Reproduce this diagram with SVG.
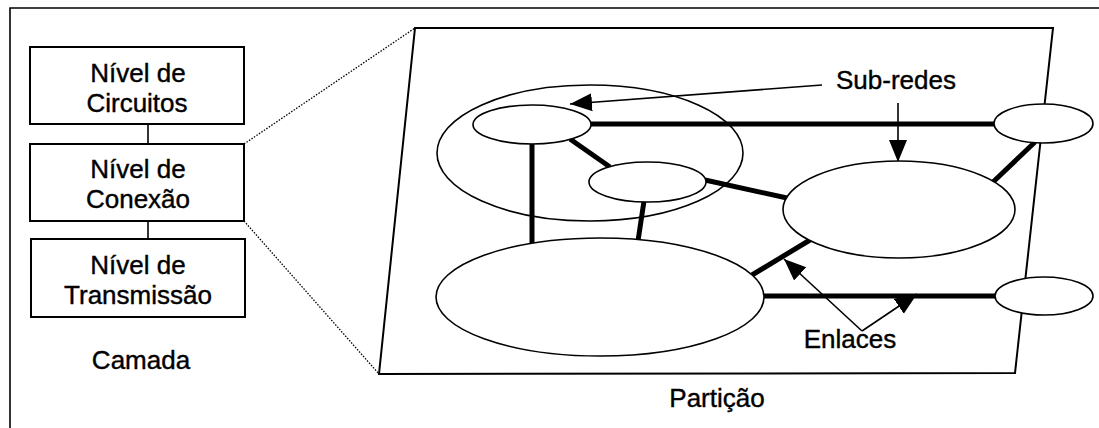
<svg xmlns="http://www.w3.org/2000/svg" width="1099" height="428" viewBox="0 0 1099 428">
<style>
.t{font-family:"Liberation Sans",Arial,sans-serif;font-size:26px;fill:#000;stroke:#000;stroke-width:0.4;text-anchor:middle}
.box{fill:#fff;stroke:#000;stroke-width:2}
.ell{fill:#fff;stroke:#000;stroke-width:1.6}
.thick{stroke:#000;stroke-width:5;fill:none}
.thin{stroke:#000;stroke-width:1.6;fill:none}
.dot{stroke:#000;stroke-width:1.3;stroke-dasharray:1.5 1.5;fill:none}
</style>
<defs>
<marker id="ah" markerUnits="userSpaceOnUse" markerWidth="24" markerHeight="20" refX="22" refY="9" orient="auto" viewBox="0 0 24 18">
<path d="M0,0 L22,9 L0,18 Z" fill="#000"/>
</marker>
</defs>
<rect width="1099" height="428" fill="#fff"/>
<path d="M10,428 V8 H1099" class="thin" stroke-width="2"/>

<g id="camada">
<g id="conn-layers">
<line x1="148" y1="124" x2="148" y2="144" class="thin"/>
<line x1="148" y1="221" x2="148" y2="239" class="thin"/>
</g>
<g id="n-circuitos">
<rect x="30" y="47" width="214" height="77" class="box"/>
<text class="t" x="138" y="82">Nível de</text>
<text class="t" x="137" y="112">Circuitos</text>
</g>
<g id="n-conexao">
<rect x="30" y="144" width="214" height="77" class="box"/>
<text class="t" x="138" y="178">Nível de</text>
<text class="t" x="138" y="208">Conexão</text>
</g>
<g id="n-transmissao">
<rect x="31" y="239" width="214" height="78" class="box"/>
<text class="t" x="138" y="274">Nível de</text>
<text class="t" x="138" y="304">Transmissão</text>
</g>
<text class="t" x="141" y="369">Camada</text>
</g>

<g id="zoom-lines">
<line x1="244" y1="144" x2="415" y2="28" class="dot"/>
<line x1="244" y1="221" x2="379" y2="374" class="dot"/>
</g>

<g id="particao">
<path d="M415,28 L1053,28 L1015,373 L379,374 Z" fill="#fff" stroke="#000" stroke-width="2"/>
<text class="t" x="717" y="407">Partição</text>
</g>

<g id="n-grupo">
<ellipse cx="590" cy="153" rx="153" ry="68" class="ell"/>
</g>

<g id="connectors">
<line x1="591" y1="124" x2="995" y2="124" class="thick"/>
<line x1="532" y1="143" x2="532" y2="243" class="thick"/>
<line x1="570" y1="139" x2="610" y2="167" class="thick"/>
<line x1="705" y1="180" x2="787" y2="198" class="thick"/>
<line x1="644" y1="201" x2="638" y2="241" class="thick"/>
<line x1="992" y1="183" x2="1035" y2="142" class="thick"/>
<line x1="752" y1="275" x2="810" y2="240" class="thick"/>
<line x1="763" y1="296" x2="996" y2="296" class="thick"/>
<line x1="822" y1="85" x2="570" y2="104" class="thin" marker-end="url(#ah)"/>
<line x1="898" y1="103" x2="898" y2="162" class="thin" marker-end="url(#ah)"/>
<line x1="862" y1="331" x2="784" y2="259" class="thin" marker-end="url(#ah)"/>
<line x1="862" y1="331" x2="917" y2="294" class="thin" marker-end="url(#ah)"/>
</g>

<g id="n-small1"><ellipse cx="532" cy="124.5" rx="59" ry="19.5" class="ell"/></g>
<g id="n-small2"><ellipse cx="647.5" cy="182" rx="58.5" ry="20" class="ell"/></g>
<g id="n-big-bottom"><ellipse cx="600" cy="297" rx="164" ry="59" class="ell"/></g>
<g id="n-mid-right"><ellipse cx="899" cy="209.5" rx="116" ry="48.5" class="ell"/></g>
<g id="n-top-right"><ellipse cx="1043.5" cy="123.5" rx="49.5" ry="19.5" class="ell"/></g>
<g id="n-bottom-right"><ellipse cx="1044" cy="296" rx="49" ry="19" class="ell"/></g>

<text class="t" x="896" y="89">Sub-redes</text>
<text class="t" x="850" y="348">Enlaces</text>
</svg>
